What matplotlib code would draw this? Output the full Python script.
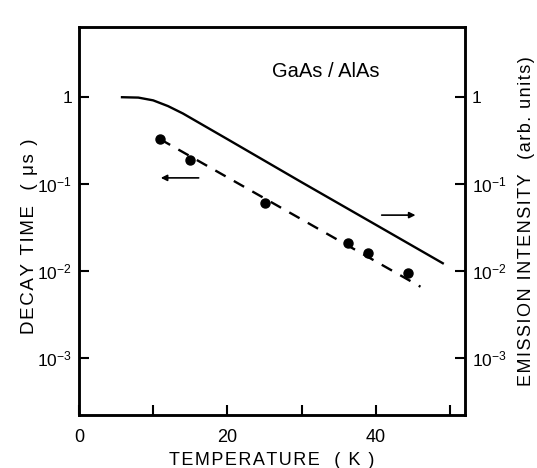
import numpy as np
import matplotlib
matplotlib.use('Agg')
import matplotlib.pyplot as plt

plt.rcParams['font.family'] = ['Liberation Sans', 'DejaVu Sans']
plt.rcParams['mathtext.default'] = 'regular'

# decay time data (left axis, microseconds)
temp_pts = [10.9, 15.0, 25.0, 36.2, 38.9, 44.3]
decay_pts = [0.327, 0.192, 0.061, 0.0211, 0.016, 0.0094]

# dashed fit through the decay times
fit_temp = [10.9, 46.0]
fit_decay = [0.33, 0.0066]

# emission intensity (right axis, arb. units)
em_temp = [5.8, 8, 10, 12, 14, 20, 30, 40, 49]
em_int = [1.0, 0.99, 0.92, 0.79, 0.65, 0.329, 0.105, 0.034, 0.0123]

y_ticks = [1e-3, 1e-2, 1e-1, 1]
y_labels = ['$10^{-3}$', '$10^{-2}$', '$10^{-1}$', '1']
x_ticks = [0, 10, 20, 30, 40, 50]
x_labels = ['0', '', '20', '', '40', '']


def spaced(s, gap='\u200a'):
    # old typewriter-ish letter spacing
    return gap.join(s)


fig = plt.figure(figsize=(5.37, 4.68), dpi=100)
ax = fig.add_axes([0.147, 0.113, 0.719, 0.829])
ax2 = ax.twinx()

ax.plot(temp_pts, decay_pts, 'o', color='black', ms=6.5)
ax.plot(fit_temp, fit_decay, '--', color='black', lw=1.7, dashes=(5, 4))
ax2.plot(em_temp, em_int, '-', color='black', lw=1.7)

ylim = (2.2e-4, 6.4)
for a in (ax, ax2):
    a.set_yscale('log')
    a.set_ylim(*ylim)
    a.set_yticks(y_ticks)
    a.set_yticklabels(y_labels)
    a.minorticks_off()
    a.tick_params(direction='in', length=7, width=1.5, labelsize=12.5, pad=5)
    for s in a.spines.values():
        s.set_linewidth(1.8)
ax.set_xlim(0, 52)
ax.set_xticks(x_ticks)
ax.set_xticklabels(x_labels)
ax.tick_params(axis='x', pad=10, labelsize=13)

# arrows pointing to the relevant axis
ax.annotate('', xy=(10.65, 0.118), xytext=(16.5, 0.118),
            arrowprops=dict(arrowstyle='-|>', color='black', lw=1.2, mutation_scale=9))
ax.annotate('', xy=(45.7, 0.044), xytext=(40.4, 0.044),
            arrowprops=dict(arrowstyle='-|>', color='black', lw=1.2, mutation_scale=9))

ax.text(26.0, 2.0, 'GaAs / AlAs', fontsize=14.5, va='center', ha='left')

ax.set_xlabel(spaced('TEMPERATURE  ( K )'), fontsize=13, labelpad=4)
ax.set_ylabel(spaced('DECAY TIME  ( μs )'), fontsize=13.5, labelpad=1)
ax.yaxis.set_label_coords(-0.105, 0.46)
ax2.set_ylabel(spaced('EMISSION INTENSITY  (arb. units)'), fontsize=13, labelpad=8)

fig.savefig('out.png', dpi=100)
